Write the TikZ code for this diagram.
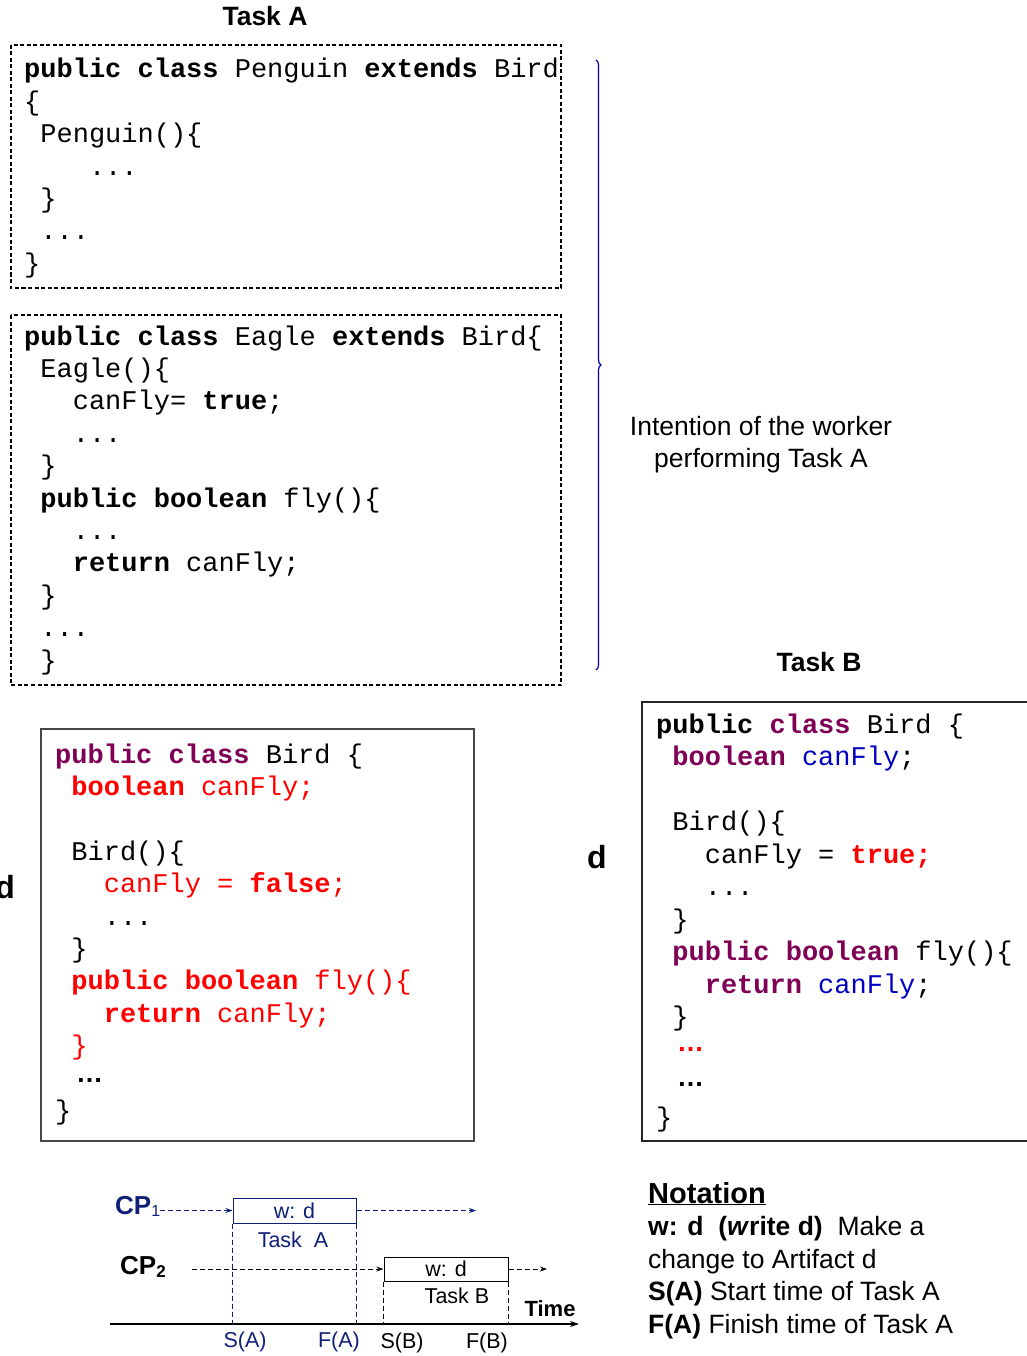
\documentclass[tikz,border=0pt]{standalone}
\usepackage{fontspec}
\setmainfont{Liberation Sans}
\newfontfamily\mono{Liberation Mono}
\usetikzlibrary{decorations.pathreplacing,arrows.meta}
\definecolor{kw}{RGB}{127,0,85}
\definecolor{var}{RGB}{0,0,192}
\definecolor{navy}{RGB}{16,32,120}
\definecolor{bracecol}{RGB}{0,0,170}
\definecolor{boxgray}{RGB}{70,70,70}
\newcommand\kwd[1]{\textcolor{kw}{\bfseries #1}}
\newcommand\vr[1]{\textcolor{var}{#1}}
\newcommand\ind[1]{\hspace*{#1em}}
\begin{document}
\begin{tikzpicture}[x=1pt,y=-1pt,
  code/.style={anchor=base west, inner sep=0pt, font=\mono\fontsize{27}{32}\selectfont},
  ell/.style={anchor=base west, inner sep=0pt, font=\fontsize{27}{32}\selectfont\bfseries},
  lbl/.style={inner sep=0pt, font=\fontsize{26.5}{32}\selectfont},
  title/.style={inner sep=0pt, anchor=base, font=\fontsize{26.5}{32}\selectfont\bfseries},
  small/.style={inner sep=0pt, font=\fontsize{21.5}{24}\selectfont},
  dashbox/.style={draw=black, line width=1.3pt, dash pattern=on 4pt off 2.5pt},
  solidbox/.style={draw=boxgray, line width=1.5pt},
  tl/.style={line width=1pt, dash pattern=on 5pt off 3pt},
  tip/.style={-{Stealth[length=7pt,width=5pt]}}]
\useasboundingbox (0,0) rectangle (1026,1356);
\fill[white] (0,0) rectangle (1026,1356);

% ---------- Task A ----------
\node[title] (ta) at (265,26) {Task A};
\draw[dashbox] (11,45) rectangle (561,288);
\node[code] (p1) at (24,78)    {\bfseries public class\mdseries{} Penguin \bfseries extends\mdseries{} Bird};
\node[code] (p2) at (24,110.4) {\{};
\node[code] (p3) at (24,142.8) {\ind{0.6}Penguin()\{};
\node[code] (p4) at (24,175.2) {\ind{2.4}...};
\node[code] (p5) at (24,207.6) {\ind{0.6}\}};
\node[code] (p6) at (24,240)   {\ind{0.6}...};
\node[code] (p7) at (24,272.4) {\}};

\draw[dashbox] (11,315) rectangle (561,685);
\node[code] (e1)  at (24,345)   {\bfseries public class\mdseries{} Eagle \bfseries extends\mdseries{} Bird\{};
\node[code] (e2)  at (24,377.4) {\ind{0.6}Eagle()\{};
\node[code] (e3)  at (24,409.8) {\ind{1.8}canFly= \textbf{true};};
\node[code] (e4)  at (24,442.2) {\ind{1.8}...};
\node[code] (e5)  at (24,474.6) {\ind{0.6}\}};
\node[code] (e6)  at (24,507)   {\ind{0.6}\textbf{public boolean} fly()\{};
\node[code] (e7)  at (24,539.4) {\ind{1.8}...};
\node[code] (e8)  at (24,571.8) {\ind{1.8}\textbf{return} canFly;};
\node[code] (e9)  at (24,604.2) {\ind{0.6}\}};
\node[code] (e10) at (24,636.6) {\ind{0.6}...};
\node[code] (e11) at (24,669)   {\ind{0.6}\}};

% brace and intention
\coordinate (bt) at (596,60);
\coordinate (bb) at (596,670);
\draw[bracecol, line width=1.2pt, decorate, decoration={brace, amplitude=5pt}] (bt) -- (bb);
\node[lbl, anchor=base] (int1) at (761,435) {Intention of the worker};
\node[lbl, anchor=base] (int2) at (761,467) {performing Task A};

% ---------- left Bird ----------
\node[inner sep=0pt, anchor=base east, font=\fontsize{32}{32}\selectfont\bfseries] (dl) at (15,898) {d};
\draw[solidbox] (41,729) rectangle (474,1141);
\node[code] (b1)  at (55,763)    {\kwd{public class} Bird \{};
\node[code] (b2)  at (55,795.4)  {\ind{0.6}\textcolor{red}{\bfseries boolean} \textcolor{red}{canFly;}};
\node[code] (b4)  at (55,860.2)  {\ind{0.6}Bird()\{};
\node[code] (b5)  at (55,892.6)  {\ind{1.8}\textcolor{red}{canFly = \textbf{false};}};
\node[code] (b6)  at (55,925)    {\ind{1.8}...};
\node[code] (b7)  at (55,957.4)  {\ind{0.6}\}};
\node[code] (b8)  at (55,989.8)  {\ind{0.6}\textcolor{red}{\textbf{public boolean} fly()\{}};
\node[code] (b9)  at (55,1022.2) {\ind{1.8}\textcolor{red}{\textbf{return} canFly;}};
\node[code] (b10) at (55,1054.6) {\ind{0.6}\textcolor{red}{\}}};
\node[ell]  (b11) at (76,1082)   {…};
\node[code] (b12) at (55,1119.4) {\}};

% ---------- Task B ----------
\node[title] (tb) at (819,671) {Task B};
\node[inner sep=0pt, anchor=base west, font=\fontsize{32}{32}\selectfont\bfseries] (dr) at (587,868) {d};
\draw[solidbox, draw=black!85] (642,702) rectangle (1032,1141);
\node[code] (r1)  at (656,733)    {\textbf{public} \kwd{class} Bird \{};
\node[code] (r2)  at (656,765.5)  {\ind{0.6}\kwd{boolean} \vr{canFly};};
\node[code] (r4)  at (656,830.5)  {\ind{0.6}Bird()\{};
\node[code] (r5)  at (656,863)    {\ind{1.8}canFly = \textcolor{red}{\textbf{true;}}};
\node[code] (r6)  at (656,895.5)  {\ind{1.8}...};
\node[code] (r7)  at (656,928)    {\ind{0.6}\}};
\node[code] (r8)  at (656,960.5)  {\ind{0.6}\kwd{public boolean} fly()\{};
\node[code] (r9)  at (656,993)    {\ind{1.8}\kwd{return} \vr{canFly};};
\node[code] (r10) at (656,1025.5) {\ind{0.6}\}};
\node[ell, red] (r11) at (677,1051) {…};
\node[ell]  (r12) at (677,1086)   {…};
\node[code] (r13) at (656,1126)   {\}};

% ---------- timeline ----------
\coordinate (ax0) at (110,1324);
\coordinate (ax1) at (579,1324);
\draw[line width=1.3pt, -{Stealth[length=9pt,width=6pt]}] (ax0) -- (ax1);
\node[inner sep=0pt, anchor=base, font=\fontsize{22}{24}\selectfont\bfseries] (time) at (550,1316) {Time};

\node[inner sep=0pt, anchor=base west, text=navy, font=\fontsize{26}{28}\selectfont\bfseries] (cp1) at (115,1214)
  {CP{\mdseries\fontsize{16}{16}\selectfont\raisebox{-2pt}{1}}};
\node[inner sep=0pt, anchor=base west, font=\fontsize{26}{28}\selectfont\bfseries] (cp2) at (120,1274)
  {CP{\fontsize{17}{17}\selectfont\raisebox{-3pt}{2}}};

\node[draw=navy, line width=1pt, minimum width=123pt, minimum height=25pt, inner sep=0pt, text=navy, font=\fontsize{21.5}{24}\selectfont] (wa) at (294.5,1210.5) {w: d};
\node[small, text=navy] (tka) at (293,1240) {Task~~A};
\draw[navy, tl] (wa.south west) -- (wa.south west |- ax0);
\draw[navy, tl] (wa.south east) -- (wa.south east |- ax0);
\draw[navy, tl, tip] (cp1.east |- wa.west) -- (wa.west);
\coordinate (cp1end) at (476,1210.5);
\draw[navy, tl, tip] (wa.east) -- (cp1end);

\node[draw=black, line width=1pt, minimum width=124pt, minimum height=24pt, inner sep=0pt, font=\fontsize{21.5}{24}\selectfont] (wb) at (446,1269) {w: d};
\node[small] (tkb) at (457,1296) {Task B};
\draw[tl] (wb.south west) -- (wb.south west |- ax0);
\draw[tl] (wb.south east) -- (wb.south east |- ax0);
\coordinate (cp2start) at (192,1269);
\draw[tl, tip] (cp2start) -- (wb.west);
\coordinate (cp2end) at (547,1269);
\draw[tl, tip] (wb.east) -- (cp2end);

\node[small, text=navy] (sa) at (245,1342) {S(A)};
\node[small, text=navy] (fa) at (339,1342) {F(A)};
\node[small] (sb) at (402,1343) {S(B)};
\node[small] (fb) at (487,1343) {F(B)};

% ---------- notation ----------
\node[inner sep=0pt, anchor=base west, font=\fontsize{29}{32}\selectfont\bfseries] (n0) at (648,1203) {\underline{Notation}};
\node[lbl, anchor=base west] (n1) at (648,1235.5) {\textbf{w: d\ \ (\textit{w}rite d)}\ \ Make a};
\node[lbl, anchor=base west] (n2) at (648,1268) {change to Artifact d};
\node[lbl, anchor=base west] (n3) at (648,1300.5) {\textbf{S(A)} Start time of Task A};
\node[lbl, anchor=base west] (n4) at (648,1333) {\textbf{F(A)} Finish time of Task A};
\end{tikzpicture}
\end{document}
